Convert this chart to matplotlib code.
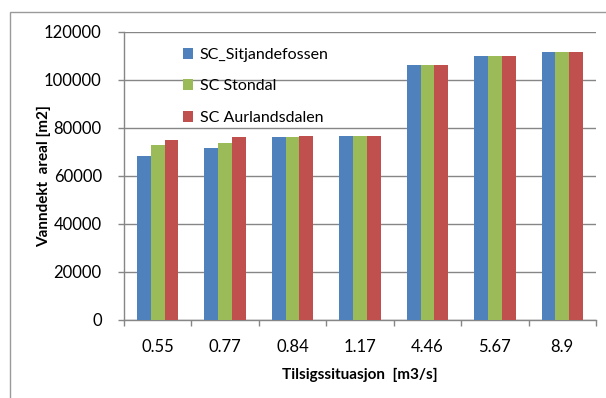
import matplotlib.pyplot as plt
import numpy as np
from matplotlib.patches import Rectangle

plt.rcParams['font.family'] = ['Lato', 'DejaVu Sans']

categories = ["0.55", "0.77", "0.84", "1.17", "4.46", "5.67", "8.9"]
series_names = ["SC_Sitjandefossen", "SC Stondal", "SC Aurlandsdalen"]
sitjandefossen = [68300, 71600, 76100, 76600, 106400, 110200, 111800]
stondal = [72800, 73800, 76100, 76600, 106400, 110200, 111800]
aurlandsdalen = [74900, 76100, 76600, 76600, 106400, 110200, 111800]
colors = ["#4F81BD", "#9BBB59", "#C0504D"]

W, H = 606, 398
fig = plt.figure(figsize=(W / 100, H / 100), dpi=100)

# chart frame (runs off the right and bottom edge)
fig.patches.append(Rectangle((10 / W, -0.05), 1.0, (H - 12) / H + 0.05,
                             transform=fig.transFigure, fill=False,
                             edgecolor="#9a9a9a", linewidth=1.0))

ax = fig.add_axes([124 / W, (H - 320) / H, (596 - 124) / W, (320 - 32) / H])

x = np.arange(len(categories))
bw = 0.205
for i, (vals, name) in enumerate(zip([sitjandefossen, stondal, aurlandsdalen], series_names)):
    ax.bar(x + (i - 1) * bw, vals, width=bw, color=colors[i], label=name, zorder=3)

ax.set_xlim(-0.5, len(categories) - 0.5)
ax.set_ylim(0, 120000)
ax.set_yticks(np.arange(0, 120001, 20000))
ax.set_xticks(x)
ax.set_xticklabels(categories)
ax.set_xticks(np.arange(-0.5, len(categories), 1.0), minor=True)
ax.tick_params(axis="x", which="major", length=0, pad=14, labelsize=12)
ax.tick_params(axis="x", which="minor", length=4, width=1, color="#868686")
ax.tick_params(axis="y", length=4, width=1, color="#868686", pad=12, labelsize=12)

ax.grid(axis="y", color="#868686", linewidth=1, zorder=0)
for s in ["top", "right"]:
    ax.spines[s].set_visible(False)
for s in ["left", "bottom"]:
    ax.spines[s].set_color("#868686")
    ax.spines[s].set_linewidth(1)

ax.set_ylabel("Vanndekt  areal [m2]", fontsize=11, fontweight="bold")
ax.set_xlabel("Tilsigssituasjon  [m3/s]", fontsize=11, fontweight="bold")
ax.yaxis.set_label_coords(-0.17, 0.5)
ax.xaxis.set_label_coords(0.5, -0.19)
ax.yaxis.label.set_va("center")
ax.xaxis.label.set_va("center")

ax.legend(loc="upper left", bbox_to_anchor=(0.094, 0.995), frameon=False,
          fontsize=11.5, handlelength=0.65, handleheight=0.65, handletextpad=0.4,
          labelspacing=1.1)

fig.savefig("out.png", dpi=100)
